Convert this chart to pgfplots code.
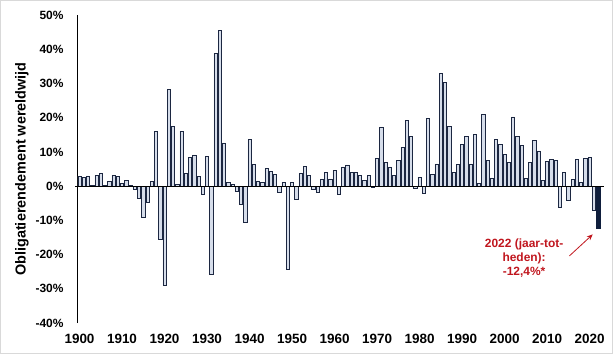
\documentclass[border=0pt]{standalone}
\usepackage{pgfplots}
\pgfplotsset{compat=1.18}
\usetikzlibrary{arrows.meta}
\usepackage{fontspec}
\setmainfont{Liberation Sans}
\definecolor{barfill}{HTML}{D6DDEA}
\definecolor{baredge}{HTML}{1C2741}
\definecolor{navy}{HTML}{0F1E3C}
\definecolor{annred}{HTML}{C0161E}
\begin{document}
\begin{tikzpicture}[x=1bp,y=1bp]
\path (0,0) rectangle (615,356);
\draw[gray!30, line width=1bp] (0.5,2.5) rectangle (612,355.5);
\begin{axis}[
  at={(77bp,33bp)}, anchor=south west,
  scale only axis, width=527bp, height=308bp,
  xmin=1899.41, xmax=2023.4, ymin=-40, ymax=50,
  clip=false,
  separate axis lines,
  axis x line=bottom, axis y line=left,
  x axis line style={draw=none},
  y axis line style={-, black, line width=0.9bp},
  major tick length=0pt,
  xtick={1900,1910,1920,1930,1940,1950,1960,1970,1980,1990,2000,2010,2020},
  xticklabels={1900,1910,1920,1930,1940,1950,1960,1970,1980,1990,2000,2010,2020},
  ytick={-40,-30,-20,-10,0,10,20,30,40,50},
  yticklabels={-40\%,-30\%,-20\%,-10\%,0\%,10\%,20\%,30\%,40\%,50\%},
  xticklabel style={font=\bfseries\fontsize{13.5}{16}\selectfont, yshift=-7.5bp},
  yticklabel style={font=\bfseries\fontsize{12}{14}\selectfont, xshift=-10bp},
  ylabel={Obligatierendement wereldwijd},
  every axis y label/.style={at={(axis description cs:-0.1044,0.5)}, rotate=90, anchor=center, font=\bfseries\fontsize{14.5}{17}\selectfont},
]
\addplot[ybar, bar shift=0pt, bar width=0.78, fill=barfill, draw=baredge, line width=0.7bp] table {
x y
1900 2.9
1901 2.5
1902 3.0
1903 0.3
1904 3.2
1905 3.8
1906 0.2
1907 1.3
1908 3.2
1909 2.9
1910 0.7
1911 1.7
1912 0.2
1913 -0.8
1914 -3.5
1915 -9.0
1916 -4.8
1917 1.3
1918 16.1
1919 -15.6
1920 -28.9
1921 28.3
1922 17.5
1923 0.5
1924 16.1
1925 3.7
1926 8.5
1927 9.1
1928 2.8
1929 -2.3
1930 8.7
1931 -25.9
1932 38.8
1933 45.6
1934 12.6
1935 1.0
1936 0.5
1937 -1.5
1938 -5.4
1939 -10.6
1940 13.6
1941 6.4
1942 1.5
1943 1.1
1944 5.1
1945 4.3
1946 3.4
1947 -1.8
1948 1.2
1949 -24.2
1950 1.2
1951 -3.8
1952 3.6
1953 5.7
1954 3.2
1955 -1.0
1956 -1.8
1957 2.1
1958 4.1
1959 2.1
1960 4.6
1961 -2.3
1962 5.6
1963 6.2
1964 4.1
1965 3.9
1966 3.1
1967 1.7
1968 3.1
1969 -0.4
1970 8.1
1971 17.3
1972 7.0
1973 5.6
1974 3.1
1975 7.6
1976 11.4
1977 19.2
1978 14.5
1979 -0.7
1980 2.6
1981 -2.1
1982 19.7
1983 3.5
1984 6.5
1985 32.9
1986 30.3
1987 17.5
1988 4.1
1989 6.4
1990 12.3
1991 14.4
1992 6.5
1993 15.2
1994 0.9
1995 21.0
1996 7.5
1997 2.4
1998 13.7
1999 12.2
2000 9.3
2001 6.9
2002 20.2
2003 14.5
2004 11.9
2005 2.3
2006 6.8
2007 13.3
2008 10.3
2009 1.7
2010 7.1
2011 7.7
2012 7.5
2013 -6.2
2014 3.9
2015 -4.3
2016 1.9
2017 7.9
2018 1.0
2019 8.1
2020 8.3
2021 -7.0
};
\addplot[ybar, bar shift=0pt, bar width=0.85, fill=navy, draw=navy, line width=0.7bp] table {
x y
2022 -12.4
};
\addplot[black, line width=0.9bp, forget plot] coordinates {(1899.0,0) (2023.4,0)};
\node[text=annred, font=\bfseries\fontsize{12}{14}\selectfont, align=center] at (axis cs:2004.6,-21.0) {2022 (jaar-tot-\\heden):\\-12,4\%*};
\draw[annred, -{Stealth[length=6bp,width=5bp]}, line width=0.8bp] (axis cs:2015.25,-20.4) -- (axis cs:2020.75,-14.1);
\end{axis}
\end{tikzpicture}
\end{document}
